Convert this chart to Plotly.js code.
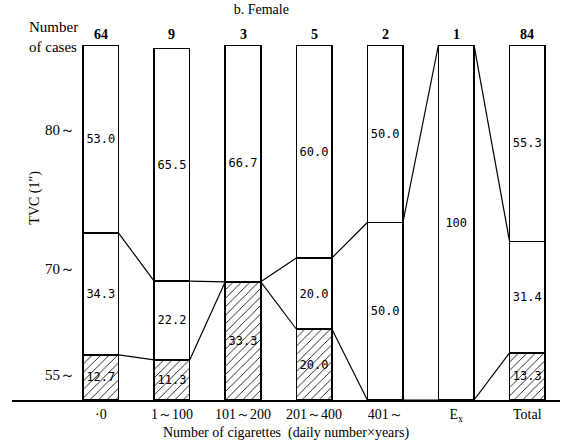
<!DOCTYPE html>
<html><head><meta charset="utf-8">
<script src="https://cdn.plot.ly/plotly-3.0.1.min.js"></script>
<style>body{margin:0;background:#fff}#c{width:562px;height:445px}</style>
</head><body><div id="c"></div>
<script>
const categories = ["·0", "1～100", "101～200", "201～400", "401～", "E<sub>x</sub>", "Total"];
const cases = [64, 9, 3, 5, 2, 1, 84];
const low = [12.7, 11.3, 33.3, 20.0, 0, 0, 13.3];     // 55~
const mid = [34.3, 22.2, 0, 20.0, 50.0, 100, 31.4];   // 70~
const high = [53.0, 65.5, 66.7, 60.0, 50.0, 0, 55.3]; // 80~
const lowText = ["12.7", "11.3", "33.3", "20.0", "", "", "13.3"];
const midText = ["34.3", "22.2", "", "20.0", "50.0", "100", "31.4"];
const highText = ["53.0", "65.5", "66.7", "60.0", "50.0", "", "55.3"];
const yLabels = ["80～", "70～", "55～"];
const yLabelPos = [76, 37, 7];

const xs = categories.map((c, i) => i);
const W = 0.5;
const mono = "DejaVu Sans Mono, monospace";
const serif = "Liberation Serif, DejaVu Serif, serif";

function barTrace(vals, txt, hatched) {
  return {
    type: "bar", x: xs, y: vals, width: W, text: txt.map(t => t === "" ? null : t),
    textposition: "inside", insidetextanchor: "middle", textangle: 0,
    textfont: {family: mono, size: 12, color: "#000"},
    marker: {
      color: "#fff",
      line: {color: "#000", width: 1.5},
      pattern: hatched ? {shape: "/", fgcolor: "#000", bgcolor: "#fff", size: 6, solidity: 0.14} : {shape: ""}
    },
    hoverinfo: "none", showlegend: false, cliponaxis: false
  };
}

const b1 = low.slice();
const b2 = low.map((v, i) => v + mid[i]);
function connector(b) {
  const lx = [], ly = [];
  for (let i = 0; i < xs.length - 1; i++) {
    lx.push(xs[i] + W / 2, xs[i + 1] - W / 2, null);
    ly.push(b[i], b[i + 1], null);
  }
  return {type: "scatter", mode: "lines", x: lx, y: ly, line: {color: "#000", width: 1.2},
          hoverinfo: "none", showlegend: false, cliponaxis: false};
}

const px = p => (p - 12) / 548;
const annotations = [];
cases.forEach((n, i) => annotations.push({
  x: xs[i], y: 100, xref: "x", yref: "y", yanchor: "bottom", yshift: 1,
  text: String(n), showarrow: false, font: {family: serif, size: 14, color: "#000", weight: "bold"}
}));
yLabels.forEach((t, i) => annotations.push({
  x: px(77), xref: "paper", y: yLabelPos[i], yref: "y", xanchor: "right", showarrow: false,
  text: t, font: {family: serif, size: 15, color: "#000"}
}));
annotations.push({x: px(80), xref: "paper", xanchor: "right", y: 100, yref: "y", yanchor: "bottom",
  yshift: -12, align: "left", showarrow: false, text: "Number<br>of cases",
  font: {family: serif, size: 15, color: "#000"}});
annotations.push({x: px(35), xref: "paper", xanchor: "center", y: 57, yref: "y", textangle: -90,
  showarrow: false, text: "TVC (1″)", font: {family: serif, size: 14, color: "#000"}});

const layout = {
  width: 562, height: 445,
  margin: {l: 12, r: 2, t: 45, b: 45},
  paper_bgcolor: "#fff", plot_bgcolor: "#fff",
  barmode: "stack",
  title: {text: "b. Female", x: 0.465, xanchor: "center", y: 0.99, yanchor: "top",
          font: {family: serif, size: 14, color: "#000"}},
  xaxis: {range: [-1.25, 6.46], tickvals: xs, ticktext: categories, showgrid: false, zeroline: false,
          showline: true, linecolor: "#000", linewidth: 2, ticks: "",
          tickfont: {family: serif, size: 14, color: "#000"},
          title: {text: "Number of cigarettes  (daily number×years)", standoff: 4,
                  font: {family: serif, size: 14, color: "#000"}}},
  yaxis: {range: [0, 100], showgrid: false, zeroline: false, showline: false, showticklabels: false, ticks: ""},
  annotations: annotations,
  font: {family: serif, color: "#000"}
};

Plotly.newPlot("c", [barTrace(low, lowText, true), barTrace(mid, midText, false), barTrace(high, highText, false),
  connector(b1), connector(b2)], layout, {staticPlot: true});
</script></body></html>
